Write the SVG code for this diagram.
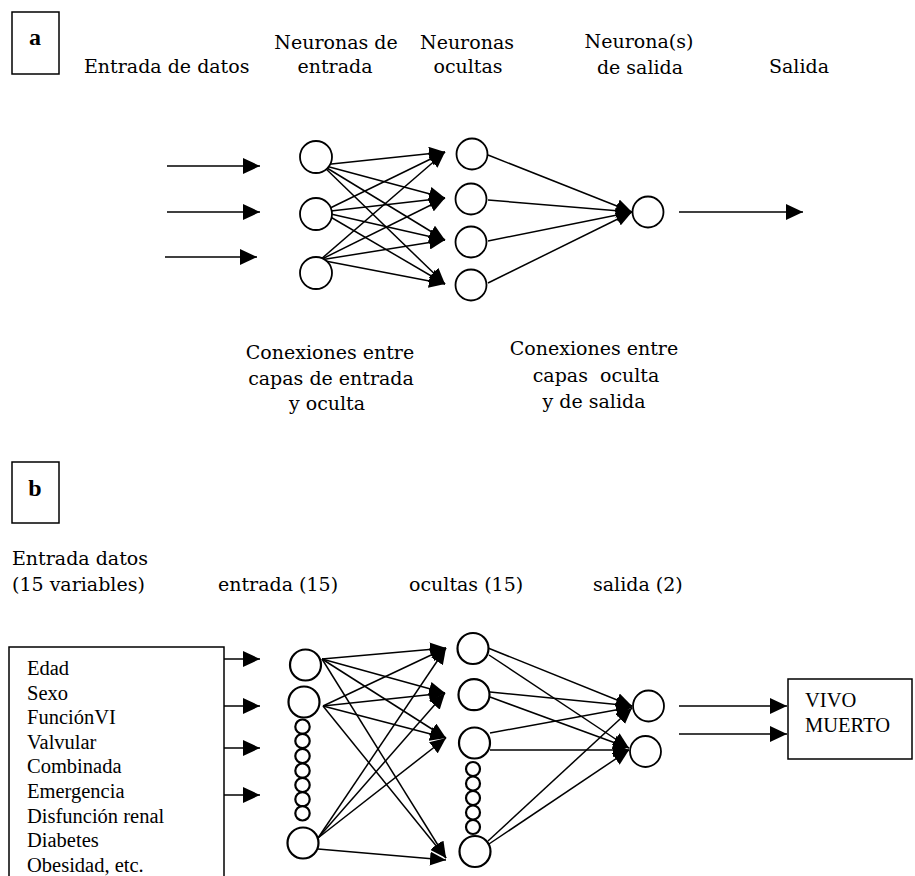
<svg xmlns="http://www.w3.org/2000/svg" width="915" height="876" viewBox="0 0 915 876">
<style>
.lbl{font-family:"DejaVu Serif","Liberation Serif",serif;font-size:19px;fill:#000}
.tm{font-family:"Liberation Serif","Times New Roman",serif;font-size:20.5px;fill:#000}
.bold{font-family:"Liberation Serif","Times New Roman",serif;font-size:24px;font-weight:bold;fill:#000}
.n{fill:#fff;stroke:#000;stroke-width:1.8}
.nb{fill:#fff;stroke:#000;stroke-width:2.2}
.box{fill:#fff;stroke:#000;stroke-width:1.5}
.c{stroke:#000;stroke-width:1.5;fill:none}
.ca{stroke:#000;stroke-width:1.5;fill:none;marker-end:url(#arrS)}
.cb{stroke:#000;stroke-width:1.5;fill:none;marker-end:url(#arrL)}
</style>
<defs>
<marker id="arrL" markerUnits="userSpaceOnUse" markerWidth="17" markerHeight="16" refX="17" refY="8" orient="auto"><path d="M0,0 L17,8 L0,16 z" fill="#000"/></marker>
<marker id="arrS" markerUnits="userSpaceOnUse" markerWidth="16" markerHeight="14" refX="16" refY="7" orient="auto"><path d="M0,0 L16,7 L0,14 z" fill="#000"/></marker>
</defs>
<rect width="915" height="876" fill="#fff"/>

<!-- Part a labels -->
<g id="label-a"><rect class="box" x="12" y="12" width="47" height="62"/><text class="bold" x="35" y="45" text-anchor="middle">a</text></g>
<g id="titles-a">
<text class="lbl" x="84" y="73">Entrada de datos</text>
<text class="lbl" x="336" y="49" text-anchor="middle">Neuronas de</text>
<text class="lbl" x="335" y="73" text-anchor="middle">entrada</text>
<text class="lbl" x="467" y="49" text-anchor="middle">Neuronas</text>
<text class="lbl" x="468" y="73" text-anchor="middle">ocultas</text>
<text class="lbl" x="639" y="48" text-anchor="middle">Neurona(s)</text>
<text class="lbl" x="640" y="74" text-anchor="middle">de salida</text>
<text class="lbl" x="799" y="73" text-anchor="middle">Salida</text>
<text class="lbl" x="330" y="359" text-anchor="middle">Conexiones entre</text>
<text class="lbl" x="331" y="385" text-anchor="middle">capas de entrada</text>
<text class="lbl" x="327" y="410" text-anchor="middle">y oculta</text>
<text class="lbl" x="594" y="355" text-anchor="middle">Conexiones entre</text>
<text class="lbl" x="596" y="382" text-anchor="middle" xml:space="preserve">capas  oculta</text>
<text class="lbl" x="594" y="408" text-anchor="middle">y de salida</text>
</g>

<!-- Part a connectors -->
<g id="connectors-a">
<line class="cb" x1="167" y1="166" x2="260" y2="166"/>
<line class="cb" x1="167" y1="212" x2="260" y2="212"/>
<line class="cb" x1="165" y1="257" x2="257" y2="257"/>
<line class="ca" x1="322" y1="165" x2="445" y2="152"/>
<line class="ca" x1="322" y1="165" x2="445" y2="198"/>
<line class="ca" x1="322" y1="165" x2="445" y2="240"/>
<line class="ca" x1="322" y1="165" x2="445" y2="284"/>
<line class="ca" x1="322" y1="212" x2="445" y2="152"/>
<line class="ca" x1="322" y1="212" x2="445" y2="198"/>
<line class="ca" x1="322" y1="212" x2="445" y2="240"/>
<line class="ca" x1="322" y1="212" x2="445" y2="284"/>
<line class="ca" x1="320" y1="260" x2="445" y2="152"/>
<line class="ca" x1="320" y1="260" x2="445" y2="198"/>
<line class="ca" x1="320" y1="260" x2="445" y2="240"/>
<line class="ca" x1="320" y1="260" x2="445" y2="284"/>
<line class="ca" x1="488" y1="155" x2="632" y2="212"/>
<line class="ca" x1="488" y1="200" x2="632" y2="212"/>
<line class="ca" x1="488" y1="241" x2="632" y2="212"/>
<line class="ca" x1="488" y1="283" x2="632" y2="212"/>
<line class="cb" x1="679" y1="212" x2="803" y2="212"/>
</g>

<!-- Part a nodes -->
<g id="a-in1"><circle class="n" cx="316" cy="157" r="16"/></g>
<g id="a-in2"><circle class="n" cx="316" cy="214" r="16"/></g>
<g id="a-in3"><circle class="n" cx="316" cy="273" r="16"/></g>
<g id="a-hid1"><circle class="n" cx="472" cy="154" r="15.5"/></g>
<g id="a-hid2"><circle class="n" cx="471" cy="199" r="15.5"/></g>
<g id="a-hid3"><circle class="n" cx="471" cy="242" r="15.5"/></g>
<g id="a-hid4"><circle class="n" cx="471" cy="285" r="15.5"/></g>
<g id="a-out1"><circle class="n" cx="648" cy="212" r="15.5"/></g>

<!-- Part b labels -->
<g id="label-b"><rect class="box" x="12" y="462" width="47" height="61"/><text class="bold" x="35" y="496" text-anchor="middle">b</text></g>
<g id="titles-b">
<text class="lbl" x="12" y="565">Entrada datos</text>
<text class="lbl" x="12" y="591">(15 variables)</text>
<text class="lbl" x="218" y="591">entrada (15)</text>
<text class="lbl" x="409" y="591">ocultas (15)</text>
<text class="lbl" x="593" y="591">salida (2)</text>
</g>

<!-- Part b input box -->
<g id="b-inputs">
<rect class="box" x="9" y="647" width="215" height="250"/>
<text class="tm" x="27" y="675">Edad</text>
<text class="tm" x="27" y="699.6">Sexo</text>
<text class="tm" x="27" y="724.2">FunciónVI</text>
<text class="tm" x="27" y="748.8">Valvular</text>
<text class="tm" x="27" y="773.4">Combinada</text>
<text class="tm" x="27" y="798">Emergencia</text>
<text class="tm" x="27" y="822.6">Disfunción renal</text>
<text class="tm" x="27" y="847.2">Diabetes</text>
<text class="tm" x="27" y="871.8">Obesidad, etc.</text>
</g>

<!-- Part b connectors -->
<g id="connectors-b">
<line class="cb" x1="224" y1="659" x2="260" y2="659"/>
<line class="cb" x1="224" y1="706" x2="260" y2="706"/>
<line class="cb" x1="224" y1="748" x2="260" y2="748"/>
<line class="cb" x1="224" y1="795" x2="260" y2="795"/>
<line class="ca" x1="322" y1="659" x2="446" y2="648"/>
<line class="ca" x1="322" y1="659" x2="445" y2="693"/>
<line class="ca" x1="322" y1="659" x2="446" y2="738"/>
<line class="ca" x1="322" y1="659" x2="446" y2="858"/>
<line class="ca" x1="323" y1="706" x2="446" y2="648"/>
<line class="ca" x1="323" y1="706" x2="445" y2="693"/>
<line class="ca" x1="323" y1="706" x2="446" y2="738"/>
<line class="ca" x1="323" y1="706" x2="446" y2="858"/>
<line class="ca" x1="318" y1="838" x2="446" y2="648"/>
<line class="ca" x1="318" y1="838" x2="445" y2="693"/>
<line class="ca" x1="318" y1="838" x2="446" y2="738"/>
<line class="ca" x1="318" y1="849" x2="446" y2="860"/>
<line class="ca" x1="488" y1="648" x2="632" y2="706"/>
<line class="ca" x1="489" y1="655" x2="629" y2="748"/>
<line class="ca" x1="490" y1="692" x2="632" y2="706"/>
<line class="ca" x1="490" y1="697" x2="629" y2="748"/>
<line class="ca" x1="490" y1="733" x2="632" y2="707"/>
<line class="ca" x1="490" y1="750" x2="629" y2="750"/>
<line class="ca" x1="488" y1="841" x2="632" y2="708"/>
<line class="ca" x1="489" y1="844" x2="629" y2="750"/>
<line class="cb" x1="679" y1="706" x2="787" y2="706"/>
<line class="cb" x1="679" y1="734" x2="787" y2="734"/>
</g>

<!-- Part b nodes -->
<g id="b-in1"><circle class="nb" cx="305.5" cy="665" r="15.5"/></g>
<g id="b-in2"><circle class="nb" cx="304" cy="702" r="15.5"/></g>
<g id="b-in-dots">
<circle class="nb" cx="302.5" cy="726.7" r="7.2"/>
<circle class="nb" cx="302.5" cy="741" r="7.2"/>
<circle class="nb" cx="302.5" cy="756" r="7.2"/>
<circle class="nb" cx="302.5" cy="770.7" r="7.2"/>
<circle class="nb" cx="302.5" cy="785" r="7.2"/>
<circle class="nb" cx="302.5" cy="799.3" r="7.2"/>
<circle class="nb" cx="302.5" cy="813.3" r="7.2"/>
</g>
<g id="b-in3"><circle class="nb" cx="303" cy="843" r="15.5"/></g>
<g id="b-hid1"><circle class="nb" cx="473" cy="648.5" r="15.5"/></g>
<g id="b-hid2"><circle class="nb" cx="474" cy="694.7" r="15.5"/></g>
<g id="b-hid3"><circle class="nb" cx="474.5" cy="743" r="15.5"/></g>
<g id="b-hid-dots">
<circle class="nb" cx="473" cy="769" r="7"/>
<circle class="nb" cx="473" cy="783.5" r="7"/>
<circle class="nb" cx="473" cy="798" r="7"/>
<circle class="nb" cx="473" cy="812.5" r="7"/>
<circle class="nb" cx="473" cy="827" r="7"/>
</g>
<g id="b-hid4"><circle class="nb" cx="475" cy="851.5" r="15.5"/></g>
<g id="b-out1"><circle class="n" cx="648.5" cy="706" r="15.5"/></g>
<g id="b-out2"><circle class="n" cx="645.5" cy="751.5" r="15.5"/></g>
<g id="b-result"><rect class="box" x="788" y="679" width="124" height="80"/>
<text class="tm" x="805" y="707">VIVO</text>
<text class="tm" x="805" y="732">MUERTO</text>
</g>
</svg>
